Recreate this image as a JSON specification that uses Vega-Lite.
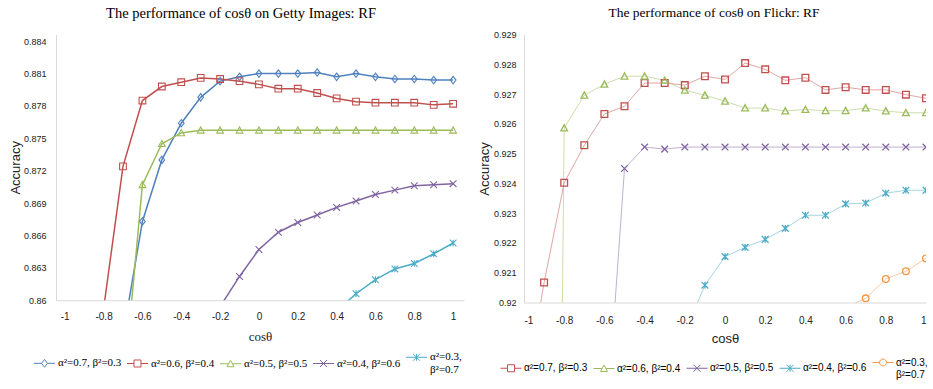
{
  "$schema": "https://vega.github.io/schema/vega-lite/v6.json",
  "background": "white",
  "padding": {"left": 9, "top": 5.5, "right": 0, "bottom": 0},
  "spacing": 14,
  "align": "none",
  "config": {
    "view": {"stroke": null},
    "axis": {"grid": false, "ticks": false, "domainColor": "#d9d9d9", "domainWidth": 1, "labelColor": "#222222", "titleColor": "#222222", "titleFontWeight": "normal"},
    "title": {"color": "#000000", "fontWeight": "normal"}
  },
  "datasets": {
    "getty": [
      {"series": "α²=0.7, β²=0.3", "cos": -0.7, "acc": 0.8567},
      {"series": "α²=0.7, β²=0.3", "cos": -0.6, "acc": 0.8673},
      {"series": "α²=0.7, β²=0.3", "cos": -0.5, "acc": 0.8730},
      {"series": "α²=0.7, β²=0.3", "cos": -0.4, "acc": 0.8764},
      {"series": "α²=0.7, β²=0.3", "cos": -0.3, "acc": 0.8788},
      {"series": "α²=0.7, β²=0.3", "cos": -0.2, "acc": 0.8803},
      {"series": "α²=0.7, β²=0.3", "cos": -0.1, "acc": 0.8807},
      {"series": "α²=0.7, β²=0.3", "cos": 0, "acc": 0.8810},
      {"series": "α²=0.7, β²=0.3", "cos": 0.1, "acc": 0.8810},
      {"series": "α²=0.7, β²=0.3", "cos": 0.2, "acc": 0.8810},
      {"series": "α²=0.7, β²=0.3", "cos": 0.3, "acc": 0.8811},
      {"series": "α²=0.7, β²=0.3", "cos": 0.4, "acc": 0.8807},
      {"series": "α²=0.7, β²=0.3", "cos": 0.5, "acc": 0.8810},
      {"series": "α²=0.7, β²=0.3", "cos": 0.6, "acc": 0.8807},
      {"series": "α²=0.7, β²=0.3", "cos": 0.7, "acc": 0.8805},
      {"series": "α²=0.7, β²=0.3", "cos": 0.8, "acc": 0.8805},
      {"series": "α²=0.7, β²=0.3", "cos": 0.9, "acc": 0.8804},
      {"series": "α²=0.7, β²=0.3", "cos": 1, "acc": 0.8804},
      {"series": "α²=0.6, β²=0.4", "cos": -0.8, "acc": 0.8592},
      {"series": "α²=0.6, β²=0.4", "cos": -0.7, "acc": 0.8724},
      {"series": "α²=0.6, β²=0.4", "cos": -0.6, "acc": 0.8785},
      {"series": "α²=0.6, β²=0.4", "cos": -0.5, "acc": 0.8798},
      {"series": "α²=0.6, β²=0.4", "cos": -0.4, "acc": 0.8802},
      {"series": "α²=0.6, β²=0.4", "cos": -0.3, "acc": 0.8806},
      {"series": "α²=0.6, β²=0.4", "cos": -0.2, "acc": 0.8805},
      {"series": "α²=0.6, β²=0.4", "cos": -0.1, "acc": 0.8803},
      {"series": "α²=0.6, β²=0.4", "cos": 0, "acc": 0.8800},
      {"series": "α²=0.6, β²=0.4", "cos": 0.1, "acc": 0.8796},
      {"series": "α²=0.6, β²=0.4", "cos": 0.2, "acc": 0.8796},
      {"series": "α²=0.6, β²=0.4", "cos": 0.3, "acc": 0.8792},
      {"series": "α²=0.6, β²=0.4", "cos": 0.4, "acc": 0.8787},
      {"series": "α²=0.6, β²=0.4", "cos": 0.5, "acc": 0.8784},
      {"series": "α²=0.6, β²=0.4", "cos": 0.6, "acc": 0.8783},
      {"series": "α²=0.6, β²=0.4", "cos": 0.7, "acc": 0.8783},
      {"series": "α²=0.6, β²=0.4", "cos": 0.8, "acc": 0.8783},
      {"series": "α²=0.6, β²=0.4", "cos": 0.9, "acc": 0.8781},
      {"series": "α²=0.6, β²=0.4", "cos": 1, "acc": 0.8782},
      {"series": "α²=0.5, β²=0.5", "cos": -0.7, "acc": 0.8512},
      {"series": "α²=0.5, β²=0.5", "cos": -0.6, "acc": 0.8707},
      {"series": "α²=0.5, β²=0.5", "cos": -0.5, "acc": 0.8745},
      {"series": "α²=0.5, β²=0.5", "cos": -0.4, "acc": 0.8755},
      {"series": "α²=0.5, β²=0.5", "cos": -0.3, "acc": 0.87575},
      {"series": "α²=0.5, β²=0.5", "cos": -0.2, "acc": 0.87575},
      {"series": "α²=0.5, β²=0.5", "cos": -0.1, "acc": 0.87575},
      {"series": "α²=0.5, β²=0.5", "cos": 0, "acc": 0.87575},
      {"series": "α²=0.5, β²=0.5", "cos": 0.1, "acc": 0.87575},
      {"series": "α²=0.5, β²=0.5", "cos": 0.2, "acc": 0.87575},
      {"series": "α²=0.5, β²=0.5", "cos": 0.3, "acc": 0.87575},
      {"series": "α²=0.5, β²=0.5", "cos": 0.4, "acc": 0.87575},
      {"series": "α²=0.5, β²=0.5", "cos": 0.5, "acc": 0.87575},
      {"series": "α²=0.5, β²=0.5", "cos": 0.6, "acc": 0.87575},
      {"series": "α²=0.5, β²=0.5", "cos": 0.7, "acc": 0.87575},
      {"series": "α²=0.5, β²=0.5", "cos": 0.8, "acc": 0.87575},
      {"series": "α²=0.5, β²=0.5", "cos": 0.9, "acc": 0.87575},
      {"series": "α²=0.5, β²=0.5", "cos": 1, "acc": 0.87575},
      {"series": "α²=0.4, β²=0.6", "cos": -0.2, "acc": 0.8594},
      {"series": "α²=0.4, β²=0.6", "cos": -0.1, "acc": 0.8622},
      {"series": "α²=0.4, β²=0.6", "cos": 0, "acc": 0.8647},
      {"series": "α²=0.4, β²=0.6", "cos": 0.1, "acc": 0.8663},
      {"series": "α²=0.4, β²=0.6", "cos": 0.2, "acc": 0.8672},
      {"series": "α²=0.4, β²=0.6", "cos": 0.3, "acc": 0.8679},
      {"series": "α²=0.4, β²=0.6", "cos": 0.4, "acc": 0.8686},
      {"series": "α²=0.4, β²=0.6", "cos": 0.5, "acc": 0.8692},
      {"series": "α²=0.4, β²=0.6", "cos": 0.6, "acc": 0.8698},
      {"series": "α²=0.4, β²=0.6", "cos": 0.7, "acc": 0.8702},
      {"series": "α²=0.4, β²=0.6", "cos": 0.8, "acc": 0.8706},
      {"series": "α²=0.4, β²=0.6", "cos": 0.9, "acc": 0.8707},
      {"series": "α²=0.4, β²=0.6", "cos": 1, "acc": 0.8708},
      {"series": "α²=0.3, β²=0.7", "cos": 0.4, "acc": 0.8590},
      {"series": "α²=0.3, β²=0.7", "cos": 0.5, "acc": 0.8606},
      {"series": "α²=0.3, β²=0.7", "cos": 0.6, "acc": 0.8619},
      {"series": "α²=0.3, β²=0.7", "cos": 0.7, "acc": 0.8629},
      {"series": "α²=0.3, β²=0.7", "cos": 0.8, "acc": 0.8634},
      {"series": "α²=0.3, β²=0.7", "cos": 0.9, "acc": 0.8643},
      {"series": "α²=0.3, β²=0.7", "cos": 1, "acc": 0.8653}
    ],
    "flickr": [
      {"series": "α²=0.7, β²=0.3", "cos": -1, "acc": 0.9167},
      {"series": "α²=0.7, β²=0.3", "cos": -0.9, "acc": 0.92067},
      {"series": "α²=0.7, β²=0.3", "cos": -0.8, "acc": 0.92402},
      {"series": "α²=0.7, β²=0.3", "cos": -0.7, "acc": 0.92528},
      {"series": "α²=0.7, β²=0.3", "cos": -0.6, "acc": 0.92633},
      {"series": "α²=0.7, β²=0.3", "cos": -0.5, "acc": 0.92659},
      {"series": "α²=0.7, β²=0.3", "cos": -0.4, "acc": 0.92737},
      {"series": "α²=0.7, β²=0.3", "cos": -0.3, "acc": 0.92737},
      {"series": "α²=0.7, β²=0.3", "cos": -0.2, "acc": 0.9273},
      {"series": "α²=0.7, β²=0.3", "cos": -0.1, "acc": 0.9276},
      {"series": "α²=0.7, β²=0.3", "cos": 0, "acc": 0.92749},
      {"series": "α²=0.7, β²=0.3", "cos": 0.1, "acc": 0.92804},
      {"series": "α²=0.7, β²=0.3", "cos": 0.2, "acc": 0.92783},
      {"series": "α²=0.7, β²=0.3", "cos": 0.3, "acc": 0.92746},
      {"series": "α²=0.7, β²=0.3", "cos": 0.4, "acc": 0.92755},
      {"series": "α²=0.7, β²=0.3", "cos": 0.5, "acc": 0.92714},
      {"series": "α²=0.7, β²=0.3", "cos": 0.6, "acc": 0.92723},
      {"series": "α²=0.7, β²=0.3", "cos": 0.7, "acc": 0.92714},
      {"series": "α²=0.7, β²=0.3", "cos": 0.8, "acc": 0.92714},
      {"series": "α²=0.7, β²=0.3", "cos": 0.9, "acc": 0.92698},
      {"series": "α²=0.7, β²=0.3", "cos": 1, "acc": 0.92686},
      {"series": "α²=0.6, β²=0.4", "cos": -0.9, "acc": 0.86},
      {"series": "α²=0.6, β²=0.4", "cos": -0.8, "acc": 0.92586},
      {"series": "α²=0.6, β²=0.4", "cos": -0.7, "acc": 0.92696},
      {"series": "α²=0.6, β²=0.4", "cos": -0.6, "acc": 0.92733},
      {"series": "α²=0.6, β²=0.4", "cos": -0.5, "acc": 0.9276},
      {"series": "α²=0.6, β²=0.4", "cos": -0.4, "acc": 0.9276},
      {"series": "α²=0.6, β²=0.4", "cos": -0.3, "acc": 0.92746},
      {"series": "α²=0.6, β²=0.4", "cos": -0.2, "acc": 0.92713},
      {"series": "α²=0.6, β²=0.4", "cos": -0.1, "acc": 0.92696},
      {"series": "α²=0.6, β²=0.4", "cos": 0, "acc": 0.92676},
      {"series": "α²=0.6, β²=0.4", "cos": 0.1, "acc": 0.92653},
      {"series": "α²=0.6, β²=0.4", "cos": 0.2, "acc": 0.92653},
      {"series": "α²=0.6, β²=0.4", "cos": 0.3, "acc": 0.92643},
      {"series": "α²=0.6, β²=0.4", "cos": 0.4, "acc": 0.92648},
      {"series": "α²=0.6, β²=0.4", "cos": 0.5, "acc": 0.92644},
      {"series": "α²=0.6, β²=0.4", "cos": 0.6, "acc": 0.92644},
      {"series": "α²=0.6, β²=0.4", "cos": 0.7, "acc": 0.92653},
      {"series": "α²=0.6, β²=0.4", "cos": 0.8, "acc": 0.92643},
      {"series": "α²=0.6, β²=0.4", "cos": 0.9, "acc": 0.92637},
      {"series": "α²=0.6, β²=0.4", "cos": 1, "acc": 0.92637},
      {"series": "α²=0.5, β²=0.5", "cos": -0.6, "acc": 0.9149},
      {"series": "α²=0.5, β²=0.5", "cos": -0.5, "acc": 0.9245},
      {"series": "α²=0.5, β²=0.5", "cos": -0.4, "acc": 0.92522},
      {"series": "α²=0.5, β²=0.5", "cos": -0.3, "acc": 0.92515},
      {"series": "α²=0.5, β²=0.5", "cos": -0.2, "acc": 0.92522},
      {"series": "α²=0.5, β²=0.5", "cos": -0.1, "acc": 0.92522},
      {"series": "α²=0.5, β²=0.5", "cos": 0, "acc": 0.92522},
      {"series": "α²=0.5, β²=0.5", "cos": 0.1, "acc": 0.92522},
      {"series": "α²=0.5, β²=0.5", "cos": 0.2, "acc": 0.92522},
      {"series": "α²=0.5, β²=0.5", "cos": 0.3, "acc": 0.92522},
      {"series": "α²=0.5, β²=0.5", "cos": 0.4, "acc": 0.92522},
      {"series": "α²=0.5, β²=0.5", "cos": 0.5, "acc": 0.92522},
      {"series": "α²=0.5, β²=0.5", "cos": 0.6, "acc": 0.92522},
      {"series": "α²=0.5, β²=0.5", "cos": 0.7, "acc": 0.92522},
      {"series": "α²=0.5, β²=0.5", "cos": 0.8, "acc": 0.92522},
      {"series": "α²=0.5, β²=0.5", "cos": 0.9, "acc": 0.92522},
      {"series": "α²=0.5, β²=0.5", "cos": 1, "acc": 0.92522},
      {"series": "α²=0.4, β²=0.6", "cos": -0.2, "acc": 0.9190},
      {"series": "α²=0.4, β²=0.6", "cos": -0.1, "acc": 0.92058},
      {"series": "α²=0.4, β²=0.6", "cos": 0, "acc": 0.92154},
      {"series": "α²=0.4, β²=0.6", "cos": 0.1, "acc": 0.92185},
      {"series": "α²=0.4, β²=0.6", "cos": 0.2, "acc": 0.92212},
      {"series": "α²=0.4, β²=0.6", "cos": 0.3, "acc": 0.92249},
      {"series": "α²=0.4, β²=0.6", "cos": 0.4, "acc": 0.92293},
      {"series": "α²=0.4, β²=0.6", "cos": 0.5, "acc": 0.92293},
      {"series": "α²=0.4, β²=0.6", "cos": 0.6, "acc": 0.92331},
      {"series": "α²=0.4, β²=0.6", "cos": 0.7, "acc": 0.92334},
      {"series": "α²=0.4, β²=0.6", "cos": 0.8, "acc": 0.92367},
      {"series": "α²=0.4, β²=0.6", "cos": 0.9, "acc": 0.92377},
      {"series": "α²=0.4, β²=0.6", "cos": 1, "acc": 0.92377},
      {"series": "α²=0.3, β²=0.7", "cos": 0.5, "acc": 0.9192},
      {"series": "α²=0.3, β²=0.7", "cos": 0.6, "acc": 0.91985},
      {"series": "α²=0.3, β²=0.7", "cos": 0.7, "acc": 0.92014},
      {"series": "α²=0.3, β²=0.7", "cos": 0.8, "acc": 0.92079},
      {"series": "α²=0.3, β²=0.7", "cos": 0.9, "acc": 0.92105},
      {"series": "α²=0.3, β²=0.7", "cos": 1, "acc": 0.92148}
    ]
  },
  "resolve": {
    "scale": {"x": "independent", "y": "independent", "color": "independent", "shape": "independent"},
    "legend": {"color": "independent", "shape": "independent"}
  },
  "hconcat": [
    {
      "vconcat": [
        {
          "width": 408,
          "height": 265.7,
          "title": {"text": "The performance of cosθ on Getty Images: RF", "font": "Liberation Serif", "fontSize": 14.5, "offset": 13, "dx": -19},
          "data": {"name": "getty"},
          "encoding": {
            "x": {
              "field": "cos", "type": "quantitative",
              "scale": {"domain": [-1.045, 1.056], "nice": false, "zero": false},
              "axis": {"values": [-1, -0.8, -0.6, -0.4, -0.2, 0, 0.2, 0.4, 0.6, 0.8, 1], "labelExpr": "'' + datum.value", "labelFont": "Liberation Sans", "labelFontSize": 10, "labelPadding": 11, "title": "cosθ", "titleFont": "Liberation Serif", "titleFontSize": 13, "titleBaseline": "middle", "titleY": 36}
            },
            "y": {
              "field": "acc", "type": "quantitative",
              "scale": {"domain": [0.86, 0.884621], "nice": false, "zero": false},
              "axis": {"values": [0.86, 0.863, 0.866, 0.869, 0.872, 0.875, 0.878, 0.881, 0.884], "labelExpr": "'' + datum.value", "labelFont": "Liberation Sans", "labelFontSize": 9, "labelPadding": 10, "title": "Accuracy", "titleFont": "Liberation Sans", "titleFontSize": 13, "titleBaseline": "middle", "titleX": -41}
            },
            "color": {
              "field": "series", "type": "nominal",
              "scale": {"domain": ["α²=0.7, β²=0.3", "α²=0.6, β²=0.4", "α²=0.5, β²=0.5", "α²=0.4, β²=0.6", "α²=0.3, β²=0.7"], "range": ["#4F81BD", "#C0504D", "#9BBB59", "#8064A2", "#4BACC6"]},
              "legend": {
                "orient": "none", "legendX": -17, "legendY": 317, "direction": "horizontal", "columns": 5, "title": null,
                "labelFont": "Liberation Serif", "labelFontSize": 11, "labelColor": "#000000", "symbolSize": 49, "symbolOpacity": 1, "symbolStrokeWidth": 1, "symbolFillColor": "transparent", "labelOffset": 8, "columnPadding": 3, "rowPadding": 2, "padding": 0,
                "labelExpr": "datum.label === 'α²=0.3, β²=0.7' ? ['α²=0.3,', 'β²=0.7'] : datum.label"
              }
            }
          },
          "layer": [
            {"mark": {"type": "line", "clip": true, "strokeWidth": 1.5}},
            {"transform": [{"filter": {"field": "series", "equal": "α²=0.7, β²=0.3"}}], "mark": {"type": "point", "clip": true, "filled": false, "strokeWidth": 1.1, "size": 45, "opacity": 1, "shape": "M0,-1.1L0.85,0L0,1.1L-0.85,0Z"}},
            {"transform": [{"filter": {"field": "series", "equal": "α²=0.6, β²=0.4"}}], "mark": {"type": "point", "clip": true, "filled": false, "strokeWidth": 1.1, "size": 45, "opacity": 1, "shape": "M-1,-1L1,-1L1,1L-1,1Z"}},
            {"transform": [{"filter": {"field": "series", "equal": "α²=0.5, β²=0.5"}}], "mark": {"type": "point", "clip": true, "filled": false, "strokeWidth": 1.1, "size": 45, "opacity": 1, "shape": "M0,-1L1,0.85L-1,0.85Z"}},
            {"transform": [{"filter": {"field": "series", "equal": "α²=0.4, β²=0.6"}}], "mark": {"type": "point", "clip": true, "filled": false, "strokeWidth": 1.1, "size": 45, "opacity": 1, "shape": "M-1,-1L1,1M1,-1L-1,1"}},
            {"transform": [{"filter": {"field": "series", "equal": "α²=0.3, β²=0.7"}}], "mark": {"type": "point", "clip": true, "filled": false, "strokeWidth": 1.1, "size": 45, "opacity": 1, "shape": "M-1,-1L1,1M1,-1L-1,1M0,-1L0,1"}},
            {
              "mark": {"type": "point", "clip": true, "filled": false, "opacity": 0},
              "encoding": {
                "shape": {
                  "field": "series", "type": "nominal",
                  "scale": {"domain": ["α²=0.7, β²=0.3", "α²=0.6, β²=0.4", "α²=0.5, β²=0.5", "α²=0.4, β²=0.6", "α²=0.3, β²=0.7"], "range": ["M-3,0L-0.85,0M0.85,0L3,0M0,-1.1L0.85,0L0,1.1L-0.85,0Z", "M-3,0L-1,0M1,0L3,0M-1,-1L1,-1L1,1L-1,1Z", "M-3,0L-0.55,0M0.55,0L3,0M0,-1L1,0.85L-1,0.85Z", "M-3,0L3,0M-1,-1L1,1M1,-1L-1,1", "M-3,0L3,0M-1,-1L1,1M1,-1L-1,1M0,-1L0,1"]},
                  "legend": {
                    "orient": "none", "legendX": -17, "legendY": 317, "direction": "horizontal", "columns": 5, "title": null,
                    "labelFont": "Liberation Serif", "labelFontSize": 11, "labelColor": "#000000", "symbolSize": 49, "symbolOpacity": 1, "symbolStrokeWidth": 1, "symbolFillColor": "transparent", "labelOffset": 8, "columnPadding": 3, "rowPadding": 2, "padding": 0,
                    "labelExpr": "datum.label === 'α²=0.3, β²=0.7' ? ['α²=0.3,', 'β²=0.7'] : datum.label"
                  }
                }
              }
            }
          ]
        }
      ],
      "resolve": {
        "scale": {"x": "independent", "y": "independent", "color": "independent", "shape": "independent"},
        "legend": {"color": "independent", "shape": "independent"}
      }
    },
    {
      "vconcat": [
        {
          "width": 402,
          "height": 268,
          "title": {"text": "The performance of cosθ on Flickr: RF", "font": "Liberation Serif", "fontSize": 13.5, "offset": 11, "dx": -11},
          "data": {"name": "flickr"},
          "encoding": {
            "x": {
              "field": "cos", "type": "quantitative",
              "scale": {"domain": [-1, 1], "nice": false, "zero": false},
              "axis": {"values": [-1, -0.8, -0.6, -0.4, -0.2, 0, 0.2, 0.4, 0.6, 0.8, 1], "labelExpr": "'' + datum.value", "labelFont": "Liberation Sans", "labelFontSize": 10, "labelPadding": 13, "title": "cosθ", "titleFont": "Liberation Sans", "titleFontSize": 13, "titleBaseline": "middle", "titleY": 36}
            },
            "y": {
              "field": "acc", "type": "quantitative",
              "scale": {"domain": [0.92, 0.929], "nice": false, "zero": false},
              "axis": {"values": [0.92, 0.921, 0.922, 0.923, 0.924, 0.925, 0.926, 0.927, 0.928, 0.929], "labelExpr": "'' + datum.value", "labelFont": "Liberation Sans", "labelFontSize": 9, "labelPadding": 8, "title": "Accuracy", "titleFont": "Liberation Sans", "titleFontSize": 13, "titleBaseline": "middle", "titleX": -40}
            },
            "color": {
              "field": "series", "type": "nominal",
              "scale": {"domain": ["α²=0.7, β²=0.3", "α²=0.6, β²=0.4", "α²=0.5, β²=0.5", "α²=0.4, β²=0.6", "α²=0.3, β²=0.7"], "range": ["#C0504D", "#9BBB59", "#8064A2", "#4BACC6", "#F79646"]},
              "legend": {
                "orient": "none", "legendX": -18, "legendY": 323, "direction": "horizontal", "columns": 5, "title": null,
                "labelFont": "Liberation Sans", "labelFontSize": 10, "labelColor": "#000000", "symbolSize": 49, "symbolOpacity": 1, "symbolStrokeWidth": 1, "symbolFillColor": "transparent", "labelOffset": 8, "columnPadding": 3, "rowPadding": 2, "padding": 0,
                "labelExpr": "datum.label === 'α²=0.3, β²=0.7' ? ['α²=0.3,', 'β²=0.7'] : datum.label"
              }
            }
          },
          "layer": [
            {"mark": {"type": "line", "clip": true, "strokeWidth": 1, "opacity": 0.5}},
            {"transform": [{"filter": {"field": "series", "equal": "α²=0.7, β²=0.3"}}], "mark": {"type": "point", "clip": true, "filled": false, "strokeWidth": 1.3, "size": 45, "opacity": 1, "shape": "M-1,-1L1,-1L1,1L-1,1Z"}},
            {"transform": [{"filter": {"field": "series", "equal": "α²=0.6, β²=0.4"}}], "mark": {"type": "point", "clip": true, "filled": false, "strokeWidth": 1.3, "size": 45, "opacity": 1, "shape": "M0,-1L1,0.85L-1,0.85Z"}},
            {"transform": [{"filter": {"field": "series", "equal": "α²=0.5, β²=0.5"}}], "mark": {"type": "point", "clip": true, "filled": false, "strokeWidth": 1.3, "size": 45, "opacity": 1, "shape": "M-1,-1L1,1M1,-1L-1,1"}},
            {"transform": [{"filter": {"field": "series", "equal": "α²=0.4, β²=0.6"}}], "mark": {"type": "point", "clip": true, "filled": false, "strokeWidth": 1.3, "size": 45, "opacity": 1, "shape": "M-1,-1L1,1M1,-1L-1,1M0,-1L0,1"}},
            {"transform": [{"filter": {"field": "series", "equal": "α²=0.3, β²=0.7"}}], "mark": {"type": "point", "clip": true, "filled": false, "strokeWidth": 1.3, "size": 45, "opacity": 1, "shape": "circle"}},
            {
              "mark": {"type": "point", "clip": true, "filled": false, "opacity": 0},
              "encoding": {
                "shape": {
                  "field": "series", "type": "nominal",
                  "scale": {"domain": ["α²=0.7, β²=0.3", "α²=0.6, β²=0.4", "α²=0.5, β²=0.5", "α²=0.4, β²=0.6", "α²=0.3, β²=0.7"], "range": ["M-3,0L-1,0M1,0L3,0M-1,-1L1,-1L1,1L-1,1Z", "M-3,0L-0.55,0M0.55,0L3,0M0,-1L1,0.85L-1,0.85Z", "M-3,0L3,0M-1,-1L1,1M1,-1L-1,1", "M-3,0L3,0M-1,-1L1,1M1,-1L-1,1M0,-1L0,1", "M-3,0L-1,0M1,0L3,0M1,0A1,1,0,1,1,-1,0A1,1,0,1,1,1,0Z"]},
                  "legend": {
                    "orient": "none", "legendX": -18, "legendY": 323, "direction": "horizontal", "columns": 5, "title": null,
                    "labelFont": "Liberation Sans", "labelFontSize": 10, "labelColor": "#000000", "symbolSize": 49, "symbolOpacity": 1, "symbolStrokeWidth": 1, "symbolFillColor": "transparent", "labelOffset": 8, "columnPadding": 3, "rowPadding": 2, "padding": 0,
                    "labelExpr": "datum.label === 'α²=0.3, β²=0.7' ? ['α²=0.3,', 'β²=0.7'] : datum.label"
                  }
                }
              }
            }
          ]
        }
      ],
      "resolve": {
        "scale": {"x": "independent", "y": "independent", "color": "independent", "shape": "independent"},
        "legend": {"color": "independent", "shape": "independent"}
      }
    }
  ]
}
